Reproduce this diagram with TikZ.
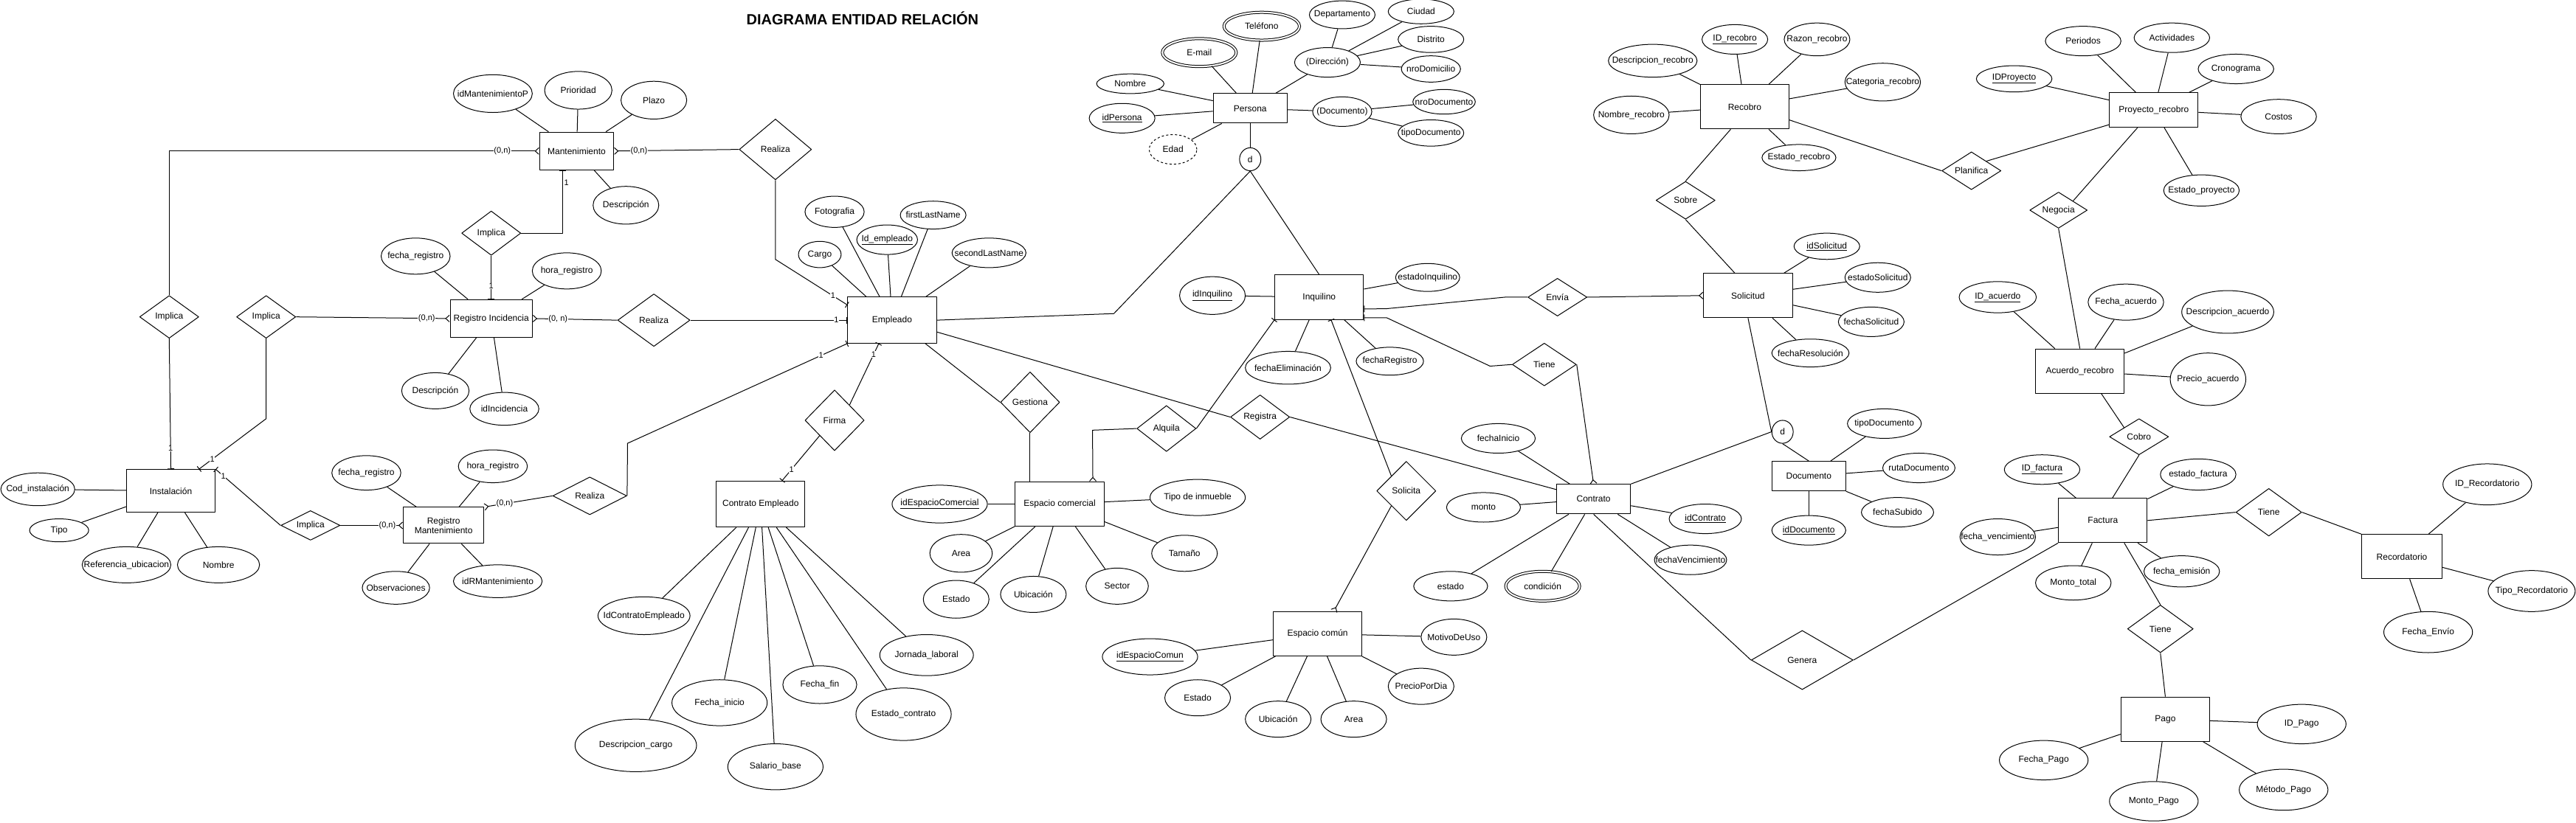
\documentclass[tikz,border=0pt]{standalone}
\usepackage{fontspec}
\setmainfont{Liberation Sans}
\usetikzlibrary{shapes.geometric,arrows.meta}
\def\px{2.2263pt}
\tikzset{
  ent/.style 2 args={draw, rectangle, fill=white, minimum width=#1*\px, minimum height=#2*\px, inner sep=1pt, align=center},
  atr/.style n args={3}{draw, ellipse, minimum width=#1*\px, minimum height=#2*\px, inner sep=0pt, label={center:#3}},
  rel/.style n args={3}{draw, diamond, minimum width=#1*\px, minimum height=#2*\px, inner sep=0pt, label={center:#3}},
  disj/.style={draw, ellipse, minimum width=13*\px, minimum height=14*\px, inner sep=0pt},
  card/.style={fill=white, inner sep=0.6pt, font=\fontsize{11}{12}\selectfont},
  multi/.style={double, double distance=2pt},
  erone/.tip={Bar[width=9pt]},
  ermany/.tip={Straight Barb[reversed, length=5pt, width=9pt]}
}
\begin{document}
\begin{tikzpicture}[x=\px, y=-\px, font=\fontsize{12}{13}\selectfont, line width=1pt, line join=round]
\useasboundingbox (0,0) rectangle (1568,501);
\node[font=\fontsize{20}{24}\selectfont\bfseries] (title) at (525,11) {DIAGRAMA ENTIDAD RELACIÓN};
% entidades
\node[ent={45}{23}] (mant) at (351,92) {Mantenimiento};
\node[ent={50}{23}] (regInc) at (299,194) {Registro Incidencia};
\node[ent={54}{28}] (emp) at (543,195) {Empleado};
\node[ent={54}{26}] (inst) at (104,299) {Instalación};
\node[ent={49}{22}] (regMant) at (270,320) {Registro\\Mantenimiento};
\node[ent={54}{28}] (ctEmp) at (463,307) {Contrato Empleado};
\node[ent={54}{27}] (espCom) at (645,307) {Espacio comercial};
\node[ent={45}{18}] (pers) at (761,66) {Persona};
\node[ent={54}{27}] (inq) at (803,181) {Inquilino};
\node[ent={54}{27}] (espCmn) at (802,386) {Espacio común};
\node[ent={45}{18}] (contr) at (970,304) {Contrato};
\node[ent={45}{18}] (docu) at (1101,290) {Documento};
\node[ent={54}{27}] (solic) at (1064,180) {Solicitud};
\node[ent={54}{27}] (recob) at (1062,65) {Recobro};
\node[ent={54}{21}] (proy) at (1311,67) {Proyecto\_recobro};
\node[ent={54}{27}] (acu) at (1266,226) {Acuerdo\_recobro};
\node[ent={54}{27}] (fact) at (1280,317) {Factura};
\node[ent={49}{27}] (recor) at (1462,339) {Recordatorio};
\node[ent={54}{27}] (pago) at (1318,438) {Pago};
% relaciones
\node[rel={44}{37}{Realiza}] (relMant) at (472,91) {};
\node[rel={36}{27}{Implica}] (impA) at (299,142) {};
\node[rel={36}{26}{Implica}] (impB) at (103,193) {};
\node[rel={36}{26}{Implica}] (impC) at (162,193) {};
\node[rel={36}{18}{Implica}] (impD) at (189,320) {};
\node[rel={44}{32}{Realiza}] (relInc) at (398,195) {};
\node[rel={45}{23}{Realiza}] (relRM) at (359,302) {};
\node[rel={36}{37}{Firma}] (firma) at (508,256) {};
\node[rel={36}{37}{Gestiona}] (gest) at (627,245) {};
\node[rel={36}{28}{Alquila}] (alq) at (710,261) {};
\node[rel={36}{27}{Registra}] (regis) at (767,254) {};
\node[rel={36}{36}{Solicita}] (soli) at (856,299) {};
\node[rel={36}{23}{Envía}] (envia) at (948,181) {};
\node[rel={39}{26}{Tiene}] (tieneC) at (940,222) {};
\node[rel={36}{23}{Sobre}] (sobre) at (1026,122) {};
\node[rel={36}{23}{Planifica}] (plan) at (1200,104) {};
\node[rel={35}{22}{Negocia}] (nego) at (1253,128) {};
\node[rel={36}{22}{Cobro}] (cobro) at (1302,266) {};
\node[rel={40}{29}{Tiene}] (tieneR) at (1381,312) {};
\node[rel={40}{29}{Tiene}] (tieneP) at (1315,383) {};
\node[rel={62}{36}{Genera}] (genera) at (1097,402) {};
\node[disj] (dP) at (761,97) {d};
\node[disj] (dD) at (1085,263) {d};
% atributos
\node[atr={48}{23}{idMantenimientoP}] (mtId) at (300,57) {};
\node[atr={41}{23}{Prioridad}] (mtPri) at (352,55) {};
\node[atr={40}{23}{Plazo}] (mtPla) at (398,61) {};
\node[atr={40}{23}{Descripción}] (mtDes) at (381,125) {};
\node[atr={42}{22}{fecha\_registro}] (riFec) at (253,156) {};
\node[atr={42}{22}{hora\_registro}] (riHor) at (345,165) {};
\node[atr={41}{22}{Descripción}] (riDes) at (265,238) {};
\node[atr={42}{20}{idIncidencia}] (riId) at (307,249) {};
\node[atr={45}{20}{Cod\_instalación}] (inCod) at (23,298) {};
\node[atr={36}{14}{Tipo}] (inTip) at (36,323) {};
\node[atr={54}{22}{Referencia\_ubicacion}] (inRef) at (77,344) {};
\node[atr={50}{22}{Nombre}] (inNom) at (133,344) {};
\node[atr={42}{21}{fecha\_registro}] (rmFec) at (223,288) {};
\node[atr={42}{20}{hora\_registro}] (rmHor) at (300,284) {};
\node[atr={41}{20}{Observaciones}] (rmObs) at (241,358) {};
\node[atr={54}{20}{idRMantenimiento}] (rmId) at (303,354) {};
\node[atr={36}{19}{Fotografia}] (emFot) at (508,129) {};
\node[atr={37}{18}{\underline{Id\_empleado}}] (emId) at (540,146) {};
\node[atr={40}{17}{firstLastName}] (emFln) at (568,131) {};
\node[atr={26}{16}{Cargo}] (emCar) at (499,155) {};
\node[atr={45}{18}{secondLastName}] (emSln) at (602,154) {};
\node[atr={56}{23}{IdContratoEmpleado}] (ceId) at (392,375) {};
\node[atr={74}{32}{Descripcion\_cargo}] (ceDes) at (387,454) {};
\node[atr={58}{28}{Fecha\_inicio}] (ceIni) at (438,428) {};
\node[atr={58}{28}{Salario\_base}] (ceSal) at (472,467) {};
\node[atr={45}{23}{Fecha\_fin}] (ceFin) at (499,417) {};
\node[atr={58}{32}{Estado\_contrato}] (ceEst) at (550,435) {};
\node[atr={57}{25}{Jornada\_laboral}] (ceJor) at (564,399) {};
\node[atr={58}{23}{\underline{idEspacioComercial}}] (ecId) at (572,307) {};
\node[atr={58}{22}{Tipo de inmueble}] (ecTip) at (729,303) {};
\node[atr={40}{22}{Tamaño}] (ecTam) at (721,337) {};
\node[atr={38}{23}{Area}] (ecAre) at (585,337) {};
\node[atr={40}{23}{Estado}] (ecEst) at (582,365) {};
\node[atr={40}{22}{Ubicación}] (ecUbi) at (629,362) {};
\node[atr={38}{22}{Sector}] (ecSec) at (680,357) {};
\node[atr={41}{12}{Nombre}] (peNom) at (688,51) {};
\node[atr={40}{18}{\underline{idPersona}}] (peId) at (683,72) {};
\node[atr={29}{18}{Edad}, dashed] (peEda) at (714,91) {};
\node[atr={45}{17}{E-mail}, multi] (peMai) at (730,32) {};
\node[atr={46}{17}{Teléfono}, multi] (peTel) at (768,16) {};
\node[atr={40}{18}{(Dirección)}] (peDir) at (808,38) {};
\node[atr={36}{18}{(Documento)}] (peDoc) at (817,68) {};
\node[atr={40}{17}{Departamento}] (dirDep) at (817,9) {};
\node[atr={40}{15}{Ciudad}] (dirCiu) at (865,7) {};
\node[atr={40}{16}{Distrito}] (dirDis) at (871,24) {};
\node[atr={36}{16}{nroDomicilio}] (dirDom) at (871,42) {};
\node[atr={38}{15}{nroDocumento}] (docNro) at (879,62) {};
\node[atr={40}{16}{tipoDocumento}] (docTip) at (871,81) {};
\node[atr={40}{23}{\underline{idInquilino}}] (iqId) at (738,180) {};
\node[atr={39}{17}{estadoInquilino}] (iqEst) at (869,169) {};
\node[atr={52}{20}{fechaEliminación}] (iqEli) at (784,224) {};
\node[atr={41}{17}{fechaRegistro}] (iqReg) at (846,220) {};
\node[atr={58}{22}{\underline{idEspacioComun}}] (cmId) at (700,400) {};
\node[atr={40}{22}{MotivoDeUso}] (cmMot) at (885,388) {};
\node[atr={40}{22}{PrecioPorDia}] (cmPre) at (865,418) {};
\node[atr={40}{22}{Estado}] (cmEst) at (729,425) {};
\node[atr={40}{22}{Ubicación}] (cmUbi) at (778,438) {};
\node[atr={40}{22}{Area}] (cmAre) at (824,438) {};
\node[atr={45}{18}{fechaInicio}] (coIni) at (912,267) {};
\node[atr={45}{18}{monto}] (coMon) at (903,309) {};
\node[atr={45}{18}{estado}] (coEst) at (883,357) {};
\node[atr={45}{18}{condición}, multi] (coCon) at (939,357) {};
\node[atr={44}{18}{\underline{idContrato}}] (coId) at (1038,316) {};
\node[atr={44}{18}{fechaVencimiento}] (coVen) at (1029,341) {};
\node[atr={45}{18}{tipoDocumento}] (duTip) at (1147,258) {};
\node[atr={44}{18}{rutaDocumento}] (duRut) at (1168,285) {};
\node[atr={44}{18}{fechaSubido}] (duFec) at (1155,312) {};
\node[atr={45}{18}{\underline{idDocumento}}] (duId) at (1101,323) {};
\node[atr={40}{16}{\underline{idSolicitud}}] (soId) at (1112,150) {};
\node[atr={40}{18}{estadoSolicitud}] (soEst) at (1143,169) {};
\node[atr={40}{18}{fechaSolicitud}] (soFec) at (1139,196) {};
\node[atr={47}{17}{fechaResolución}] (soRes) at (1102,215) {};
\node[atr={40}{18}{\underline{ID\_recobro}}] (reId) at (1056,24) {};
\node[atr={40}{20}{Razon\_recobro}] (reRaz) at (1106,24) {};
\node[atr={54}{20}{Descripcion\_recobro}] (reDes) at (1006,37) {};
\node[atr={46}{23}{Categoria\_recobro}] (reCat) at (1146,50) {};
\node[atr={46}{23}{Nombre\_recobro}] (reNom) at (993,70) {};
\node[atr={45}{16}{Estado\_recobro}] (reEst) at (1095,96) {};
\node[atr={46}{18}{Periodos}] (prPer) at (1268,25) {};
\node[atr={46}{18}{Actividades}] (prAct) at (1322,23) {};
\node[atr={46}{18}{Cronograma}] (prCro) at (1361,42) {};
\node[atr={46}{16}{\underline{IDProyecto}}] (prId) at (1226,48) {};
\node[atr={46}{21}{Costos}] (prCos) at (1387,71) {};
\node[atr={46}{19}{Estado\_proyecto}] (prEst) at (1340,116) {};
\node[atr={47}{19}{\underline{ID\_acuerdo}}] (acId) at (1216,181) {};
\node[atr={46}{22}{Fecha\_acuerdo}] (acFec) at (1294,184) {};
\node[atr={56}{26}{Descripcion\_acuerdo}] (acDes) at (1356,190) {};
\node[atr={46}{32}{Precio\_acuerdo}] (acPre) at (1344,231) {};
\node[atr={46}{18}{\underline{ID\_factura}}] (faId) at (1243,286) {};
\node[atr={46}{19}{estado\_factura}] (faEst) at (1338,289) {};
\node[atr={46}{22}{fecha\_vencimiento}] (faVen) at (1216,327) {};
\node[atr={46}{21}{Monto\_total}] (faMon) at (1262,355) {};
\node[atr={46}{19}{fecha\_emisión}] (faEmi) at (1328,348) {};
\node[atr={54}{25}{ID\_Recordatorio}] (rcId) at (1514,295) {};
\node[atr={53}{25}{Tipo\_Recordatorio}] (rcTip) at (1541,360) {};
\node[atr={54}{25}{Fecha\_Envío}] (rcFec) at (1478,385) {};
\node[atr={54}{24}{ID\_Pago}] (paId) at (1401,441) {};
\node[atr={54}{24}{Fecha\_Pago}] (paFec) at (1244,463) {};
\node[atr={54}{24}{Monto\_Pago}] (paMon) at (1311,488) {};
\node[atr={54}{25}{Método\_Pago}] (paMet) at (1390,481) {};
% lineas de atributos
\foreach \a in {mtId,mtPri,mtPla,mtDes} \draw (\a) -- (mant);
\foreach \a in {riFec,riHor,riDes,riId} \draw (\a) -- (regInc);
\foreach \a in {inCod,inTip,inRef,inNom} \draw (\a) -- (inst);
\foreach \a in {rmFec,rmHor,rmObs,rmId} \draw (\a) -- (regMant);
\foreach \a in {emFot,emId,emFln,emCar,emSln} \draw (\a) -- (emp);
\foreach \a in {ceId,ceDes,ceIni,ceSal,ceFin,ceEst,ceJor} \draw (\a) -- (ctEmp);
\foreach \a in {ecId,ecTip,ecTam,ecAre,ecEst,ecUbi,ecSec} \draw (\a) -- (espCom);
\foreach \a in {peNom,peId,peEda,peMai,peTel,peDir,peDoc} \draw (\a) -- (pers);
\foreach \a in {dirDep,dirCiu,dirDis,dirDom} \draw (\a) -- (peDir);
\foreach \a in {docNro,docTip} \draw (\a) -- (peDoc);
\foreach \a in {iqId,iqEst,iqEli,iqReg} \draw (\a) -- (inq);
\foreach \a in {cmId,cmMot,cmPre,cmEst,cmUbi,cmAre} \draw (\a) -- (espCmn);
\foreach \a in {coIni,coMon,coEst,coCon,coId,coVen} \draw (\a) -- (contr);
\foreach \a in {duTip,duRut,duFec,duId} \draw (\a) -- (docu);
\foreach \a in {soId,soEst,soFec,soRes} \draw (\a) -- (solic);
\foreach \a in {reId,reRaz,reDes,reCat,reNom,reEst} \draw (\a) -- (recob);
\foreach \a in {prPer,prAct,prCro,prId,prCos,prEst} \draw (\a) -- (proy);
\foreach \a in {acId,acFec,acDes,acPre} \draw (\a) -- (acu);
\foreach \a in {faId,faEst,faVen,faMon,faEmi} \draw (\a) -- (fact);
\foreach \a in {rcId,rcTip,rcFec} \draw (\a) -- (recor);
\foreach \a in {paId,paFec,paMon,paMet} \draw (\a) -- (pago);
% relaciones con cardinalidad
\draw[-ermany] (impB.north) |- (mant.west) node[card,pos=0.95]{(0,n)};
\draw[-erone] (impB.south) -- (inst.north) node[card,pos=0.84]{1};
\draw[ermany-] (mant.east) -- (relMant.west) node[card,pos=0.2]{(0,n)};
\draw[-erone] (relMant.south) -- (472,158) -- ([yshift=-11pt]emp.north west) node[card,pos=0.8]{1};
\draw[-erone] (impA.east) -| ([xshift=-19pt]mant.south) node[card,pos=0.9,right=1pt]{1};
\draw[-erone] (impA.south) -- (regInc.north) node[card,pos=0.7]{1};
\draw[-ermany] (impC.east) -- (regInc.west) node[card,pos=0.85]{(0,n)};
\draw[-erone] (impC.south) -- (162,255) -- ([xshift=38pt]inst.north) node[card,pos=0.8]{1};
\draw[ermany-] (regInc.east) -- (relInc.west) node[card,pos=0.3]{(0, n)};
\draw[-erone] (relInc.east) -- (emp.west) node[card,pos=0.93]{1};
\draw[erone-] (inst.north east) -- (impD.west) node[card,pos=0.12]{1};
\draw[-ermany] (impD.east) -- (regMant.west) node[card,pos=0.75]{(0,n)};
\draw[ermany-] (regMant.north east) -- (relRM.west) node[card,pos=0.3]{(0,n)};
\draw[-erone] (relRM.east) -- (382,270) -- (emp.south west) node[card,pos=0.88]{1};
\draw[erone-] ([xshift=-18pt]emp.south) -- (firma.north east) node[card,pos=0.18]{1};
\draw[-erone] (firma.south west) -- ([xshift=29pt]ctEmp.north) node[card,pos=0.75]{1};
\draw ([xshift=45pt]emp.south) -- (gest.west);
\draw (gest.south) -- (gest.south |- espCom.north);
\draw (emp.east) -- (678,191) -- (dP.south);
\draw (pers.south) -- (dP.north);
\draw (dP.south) -- (inq.north);
\draw ([yshift=-16pt]emp.east) -- (regis.west);
\draw (regis.east) -- ([yshift=13pt]contr.west);
\draw[erone-] (inq.south west) -- (alq.east);
\draw[-ermany] (alq.west) -- (665,262) -- ([xshift=45pt]espCom.north);
\draw[erone-] ([xshift=16pt]inq.south) -- (soli.north west);
\draw[-ermany] (soli.south west) -- ([xshift=22pt]espCmn.north);
\draw[erone-] ([yshift=-16pt]inq.east) -- (844,188) -- (916,181) -- (envia.west);
\draw[-ermany] (envia.east) -- (solic.west);
\draw[erone-] ([yshift=-28pt]inq.east) -- (844,193.5) -- (907,223) -- (tieneC.west);
\draw[-ermany] (tieneC.east) -- (contr.north);
\draw (solic.south) -- (dD.west);
\draw (dD.west) -- (contr.north east);
\draw (dD.south) -- (docu.north);
\draw ([xshift=-18pt]solic.north) -- (sobre.south);
\draw (sobre.north) -- ([xshift=-19pt]recob.south);
\draw ([yshift=-18pt]recob.east) -- (plan.west);
\draw (plan.north east) -- ([yshift=4pt]proy.south west);
\draw ([xshift=-22pt]proy.south) -- (nego.north east);
\draw (nego.south) -- (acu.north);
\draw ([xshift=29pt]acu.south) -- (cobro.north west);
\draw (cobro.south) -- ([xshift=13pt]fact.north);
\draw (fact.east) -- (tieneR.west);
\draw (tieneR.east) -- (recor.north west);
\draw ([xshift=29pt]fact.south) -- (tieneP.north);
\draw (tieneP.south) -- (pago.north);
\draw (contr.south) -- (genera.west);
\draw (genera.east) -- (fact.south west);
\end{tikzpicture}
\end{document}
